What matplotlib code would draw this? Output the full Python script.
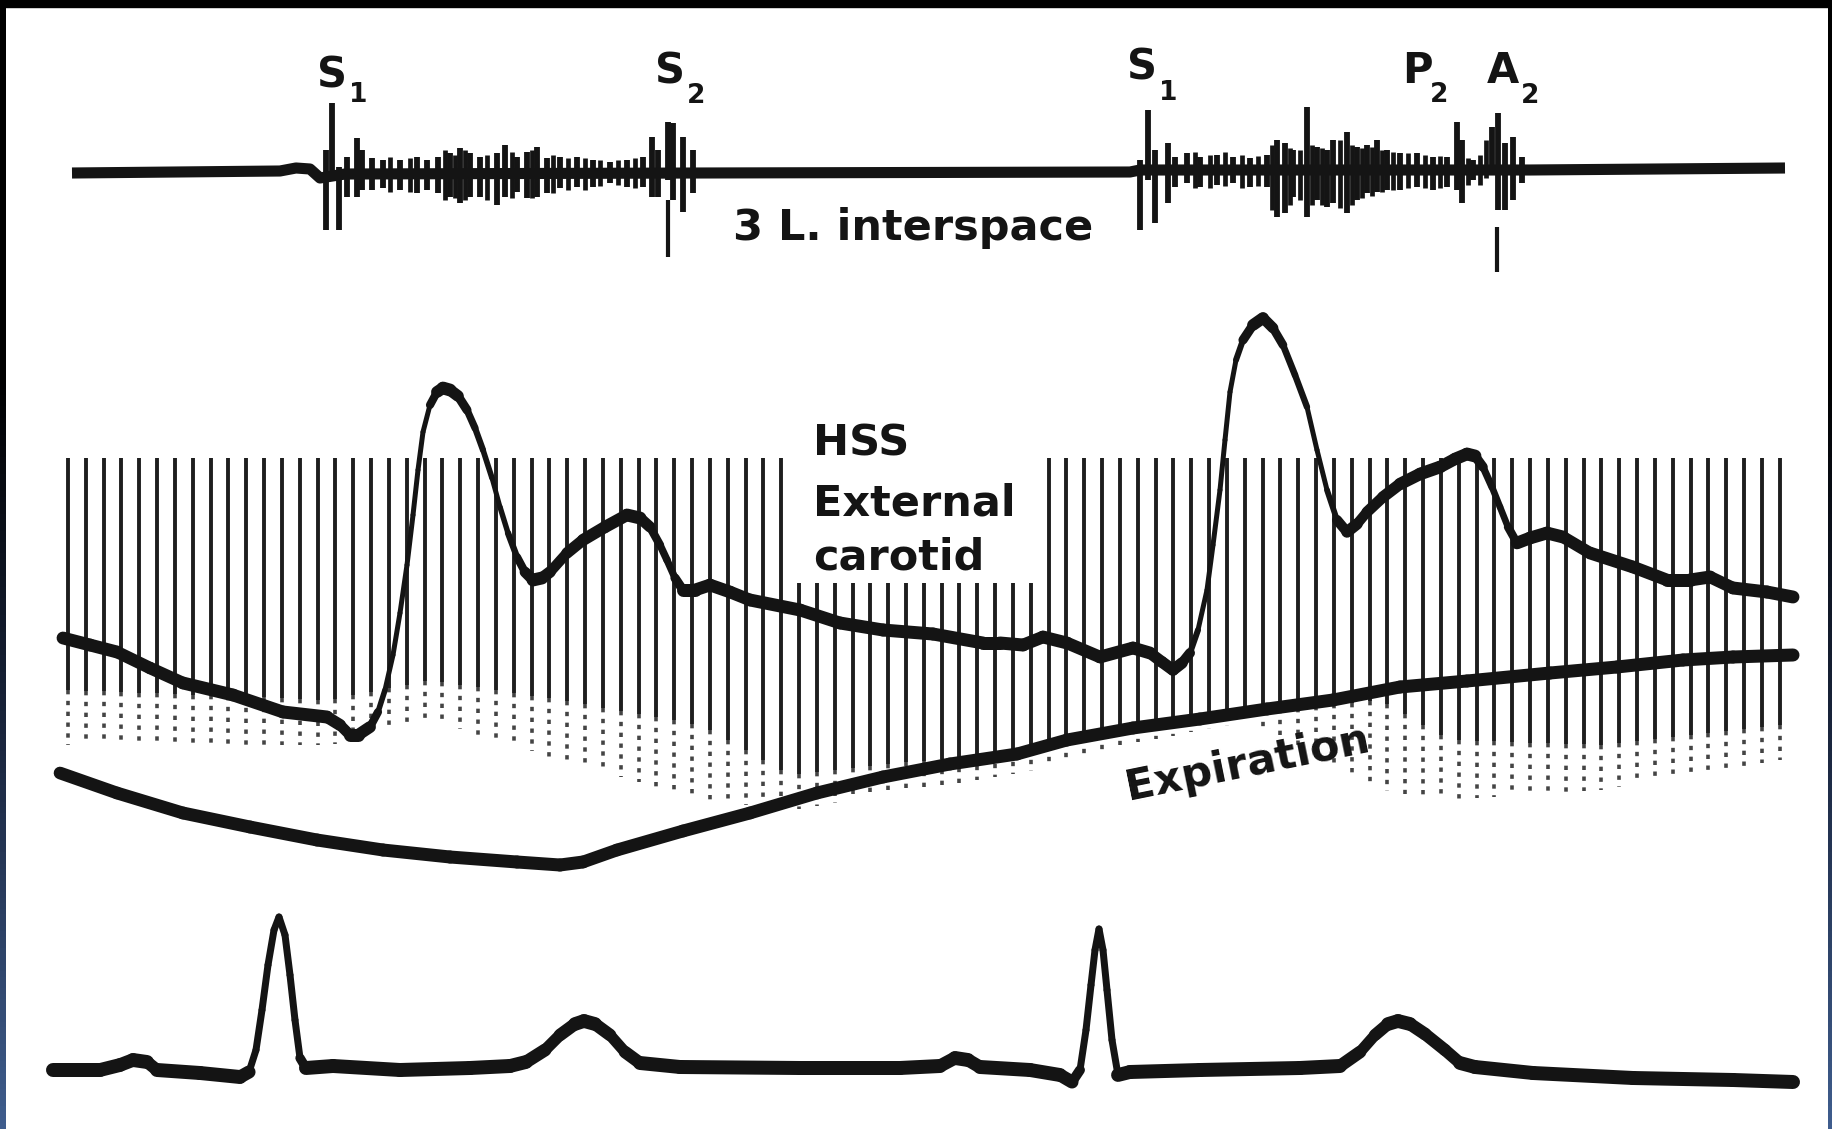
import numpy as np
import matplotlib
matplotlib.use("Agg")
import matplotlib.pyplot as plt
from matplotlib.collections import LineCollection
from matplotlib.colors import LinearSegmentedColormap

# values (x = time, y = deflection, both in px of the scan)

# phonocardiogram, 3rd left interspace
phono_base_x = [72, 280, 296, 310, 320, 345, 700, 1130, 1140, 1530, 1785]
phono_base_y = [173, 171, 168, 169, 178, 174, 173, 172, 170, 170, 168]
phono_spike_x = [326, 332, 339, 347, 357, 362, 372, 383, 400, 417, 427,
                 438, 450, 460, 470, 480, 497, 505, 517, 527, 537, 547, 560, 577, 593, 610, 627, 643,
                 652, 658, 668, 673, 683, 693,
                 1140, 1148, 1155, 1168, 1175, 1187, 1200, 1217, 1233, 1250, 1267,
                 1277, 1285, 1293, 1307, 1317, 1327, 1333, 1347, 1357, 1367, 1377, 1387, 1400,
                 1417, 1433, 1447, 1457, 1462, 1473, 1492, 1498, 1505, 1513, 1522]
phono_spike_top = [150, 103, 167, 157, 138, 150, 158, 160, 160, 157, 160,
                   157, 153, 148, 153, 157, 153, 145, 157, 152, 147, 158, 157, 157, 160, 162, 160, 157,
                   137, 150, 122, 123, 137, 150,
                   160, 110, 150, 143, 157, 153, 157, 155, 157, 158, 155,
                   140, 143, 150, 107, 147, 150, 140, 132, 147, 145, 140, 150, 153,
                   153, 157, 157, 122, 140, 160, 127, 113, 143, 137, 157]
phono_spike_bot = [230, 180, 230, 197, 197, 190, 190, 188, 190, 193, 190,
                   193, 197, 203, 197, 197, 205, 197, 192, 198, 197, 193, 188, 187, 187, 183, 187, 187,
                   197, 197, 180, 200, 212, 193,
                   230, 180, 223, 203, 187, 183, 187, 185, 183, 187, 187,
                   217, 213, 197, 217, 200, 207, 203, 213, 200, 193, 192, 190, 190,
                   187, 190, 187, 190, 203, 180, 173, 210, 210, 200, 183]
# finer murmur vibrations
murmur_x = [390, 410, 445, 455, 465, 487, 512, 532, 553, 568, 585, 600, 618, 635,
            1195, 1210, 1225, 1242, 1258, 1272, 1290, 1300, 1312, 1322, 1340, 1352,
            1362, 1372, 1382, 1393, 1408, 1425, 1440, 1468, 1480, 1486]
murmur_top = [157, 158, 150, 155, 150, 155, 152, 150, 155, 158, 158, 160, 160, 158,
              152, 155, 152, 155, 156, 145, 148, 150, 145, 148, 140, 145,
              148, 147, 150, 152, 153, 155, 156, 158, 155, 140]
murmur_bot = [192, 192, 200, 198, 200, 200, 198, 198, 193, 190, 190, 186, 185, 188,
              188, 188, 186, 188, 186, 210, 205, 200, 205, 205, 208, 205,
              198, 196, 192, 190, 188, 188, 188, 185, 185, 178]
marker_x = [668, 1497]
marker_top = [200, 227]
marker_bot = [257, 272]

# HSS external carotid pulse
carotid_x = [63, 90, 117, 150, 183, 233, 283, 327, 340, 350, 358, 370, 378, 385, 393, 400,
             407, 413, 418, 423, 430, 437, 443, 450, 458, 467, 475, 483, 492, 500, 508, 517,
             525, 533, 542, 550, 567, 583, 605, 627, 640, 650, 660, 667, 675, 683, 695, 710,
             730, 750, 800, 840, 883, 933, 983, 1000, 1023, 1043, 1067, 1100, 1133, 1150, 1162,
             1173, 1182, 1190, 1198, 1207, 1213, 1220, 1225, 1230, 1236, 1243, 1253, 1263, 1273,
             1283, 1295, 1307, 1317, 1327, 1337, 1347, 1357, 1367, 1383, 1400, 1420, 1440, 1455,
             1467, 1475, 1483, 1492, 1500, 1508, 1517, 1530, 1547, 1563, 1590, 1633, 1667, 1690,
             1710, 1733, 1767, 1793]
carotid_y = [638, 645, 652, 668, 683, 695, 712, 717, 725, 735, 735, 727, 712, 690, 655, 613,
             565, 515, 470, 432, 405, 392, 388, 390, 396, 410, 428, 450, 478, 507, 533, 557,
             572, 580, 578, 572, 553, 540, 527, 515, 518, 527, 545, 560, 578, 590, 590, 585,
             592, 600, 610, 623, 630, 634, 643, 643, 645, 637, 643, 657, 648, 653, 662,
             670, 663, 653, 630, 590, 545, 490, 440, 392, 360, 340, 325, 318, 328,
             345, 375, 407, 450, 490, 520, 532, 524, 512, 497, 484, 474, 467, 459,
             454, 456, 467, 487, 507, 527, 543, 538, 533, 537, 553, 567, 580, 580,
             577, 588, 592, 597]

# respiration
resp_x = [60, 117, 183, 250, 317, 383, 450, 517, 560, 583, 617, 683, 750, 817, 883, 950,
          1017, 1067, 1133, 1200, 1267, 1333, 1400, 1467, 1550, 1617, 1683, 1733, 1793]
resp_y = [773, 793, 813, 827, 840, 850, 857, 862, 865, 862, 850, 831, 813, 793, 777, 764,
          754, 740, 728, 719, 709, 700, 687, 681, 673, 667, 660, 657, 655]

# ECG
ecg_x = [53, 100, 120, 133, 147, 157, 200, 240, 249, 256, 262, 268, 274, 279, 285, 290,
         295, 300, 306, 333, 400, 470, 510, 526, 545, 560, 575, 584, 595, 610, 625, 640, 680,
         800, 900, 940, 955, 968, 980, 1030, 1060, 1072, 1080, 1086, 1091, 1095, 1099, 1103,
         1107, 1112, 1118, 1130, 1200, 1300, 1340, 1360, 1375, 1388, 1398, 1410, 1425, 1445,
         1460, 1475, 1533, 1633, 1733, 1793]
ecg_y = [1070, 1070, 1065, 1060, 1062, 1070, 1073, 1077, 1072, 1050, 1010, 965, 930, 917,
         935, 975, 1020, 1058, 1068, 1066, 1070, 1068, 1066, 1062, 1050, 1035, 1024, 1021,
         1024, 1035, 1052, 1063, 1067, 1068, 1068, 1066, 1058, 1060, 1067, 1070, 1075, 1082,
         1070, 1030, 985, 950, 929, 950, 990, 1040, 1075, 1072, 1070, 1068, 1066, 1052, 1035,
         1024, 1021, 1024, 1034, 1050, 1063, 1067, 1073, 1078, 1080, 1082]

# timing lines of the recorder
grid_step = 17.83
grid_first = 68
grid_count = 97
grid_gap = (41, 54)   # short lines under the label

labels_main = ["S", "S", "S", "P", "A"]
labels_sub = ["1", "2", "1", "2", "2"]

INK = "#141414"
W, H = 1832, 1129


def pen_trace(ax, x, y, thick, thin, z=4):
    # pen gets thinner when it moves fast
    x = np.asarray(x, float)
    y = np.asarray(y, float)
    pts = np.column_stack([x, y]).reshape(-1, 1, 2)
    segs = np.concatenate([pts[:-1], pts[1:]], axis=1)
    slope = np.abs(np.diff(y) / np.diff(x))
    w = np.maximum(thin, thick / np.sqrt(1 + (slope / 1.5) ** 2))
    lc = LineCollection(segs, linewidths=w * 0.72, colors=INK,
                        capstyle="round", joinstyle="round", zorder=z)
    ax.add_collection(lc)


fig = plt.figure(figsize=(W / 100, H / 100), dpi=100)
ax = fig.add_axes([0, 0, 1, 1])
ax.set_xlim(0, W)
ax.set_ylim(H, 0)
ax.axis("off")

# timing lines
gx = grid_first + grid_step * np.arange(grid_count)
k = np.arange(grid_count)
gtop = np.where((k >= grid_gap[0]) & (k <= grid_gap[1]), 583, 458)
anchor_x = [68, 330, 430, 560, 700, 790, 1040, 1120, 1250, 1380, 1450, 1600, 1780]
gbot = np.interp(gx, anchor_x, [690, 700, 680, 700, 725, 775, 748, 730, 712, 700, 740, 745, 725])
gend = np.interp(gx, anchor_x, [745, 745, 720, 760, 800, 810, 770, 745, 722, 790, 800, 790, 760])
ax.vlines(gx, gtop, gbot, colors="#1e1e1e", lw=2.8, zorder=1)
ax.vlines(gx, gbot, gend, colors="#444444", lw=2.6, linestyles=(0, (1.2, 1.8)), zorder=1)

# phono
ax.plot(phono_base_x, phono_base_y, color=INK, lw=8, solid_capstyle="butt", zorder=4)
ax.vlines(phono_spike_x, phono_spike_top, phono_spike_bot, colors=INK, lw=4.2, zorder=4)
ax.vlines(murmur_x, murmur_top, murmur_bot, colors=INK, lw=3.4, zorder=4)
ax.vlines(marker_x, marker_top, marker_bot, colors=INK, lw=3, zorder=4)

pen_trace(ax, carotid_x, carotid_y, 13, 5)
pen_trace(ax, resp_x, resp_y, 13, 8)
pen_trace(ax, ecg_x, ecg_y, 14, 7)

# labels
bold = dict(color=INK, fontweight="bold", family="DejaVu Sans")
main_pos = [(317, 87), (655, 84), (1127, 80), (1402, 83), (1487, 83)]
sub_pos = [(349, 102), (687, 103), (1159, 100), (1430, 102), (1521, 103)]
for m, s, (mx, my), (sx, sy) in zip(labels_main, labels_sub, main_pos, sub_pos):
    ax.text(mx, my, m, fontsize=30, ha="left", va="baseline", **bold)
    ax.text(sx, sy, s, fontsize=19, ha="left", va="baseline", **bold)

ax.text(733, 240, "3 L. interspace", fontsize=31, ha="left", va="baseline", **bold)
for txt, yb in zip(["HSS", "External", "carotid"], [455, 515, 570]):
    ax.text(813, yb, txt, fontsize=31, ha="left", va="baseline", zorder=5, **bold)
ax.text(1250, 775, "Expiration", fontsize=31, rotation=11.5, rotation_mode="anchor",
        ha="center", va="baseline", zorder=5, **bold)

# scan frame
edge = LinearSegmentedColormap.from_list("edge", ["#000000", "#000000", "#1b2740", "#3f5d8d"])
ax.imshow(np.linspace(0, 1, 200).reshape(-1, 1), cmap=edge, extent=[0, 6, H, 0],
          aspect="auto", zorder=10)
ax.imshow(np.linspace(0, 1, 200).reshape(-1, 1), cmap=edge, extent=[W - 4, W, H, 0],
          aspect="auto", zorder=10)
ax.add_patch(plt.Rectangle((0, 0), W, 7, color="black", zorder=11))
ax.set_xlim(0, W)
ax.set_ylim(H, 0)

fig.savefig("out.png", dpi=100, facecolor="white")
